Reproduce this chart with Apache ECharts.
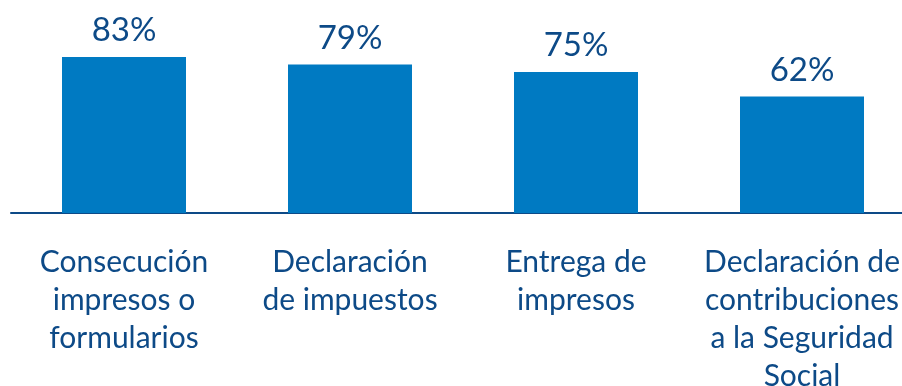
<!DOCTYPE html>
<html>
<head>
<meta charset="utf-8">
<script src="https://cdn.jsdelivr.net/npm/echarts@6/dist/echarts.min.js"></script>
<style>
  html, body { margin: 0; padding: 0; background: #ffffff; }
  #chart { width: 902px; height: 386px; }
</style>
</head>
<body>
<div id="chart"></div>
<script>
// Trámites y porcentajes
const categories = [
  'Consecución\nimpresos o\nformularios',
  'Declaración\nde impuestos',
  'Entrega de\nimpresos',
  'Declaración de\ncontribuciones\na la Seguridad\nSocial'
];
const values = [83, 79, 75, 62];

const navy = '#0D4A87';
const barBlue = '#007AC2';
const fontFamily = 'Lato, "Open Sans", sans-serif';

const chart = echarts.init(document.getElementById('chart'), null, { renderer: 'canvas' });
chart.setOption({
  animation: false,
  grid: {
    left: 11, right: -13, top: 25, bottom: 173,
    containLabel: false,
    outerBoundsMode: 'none'
  },
  xAxis: {
    type: 'category',
    data: categories,
    axisTick: { show: false },
    axisLine: { show: true, lineStyle: { color: navy, width: 2 } },
    axisLabel: {
      interval: 0,
      color: navy,
      fontFamily: fontFamily,
      fontSize: 30,
      lineHeight: 38,
      margin: 30
    }
  },
  yAxis: {
    type: 'value',
    min: 0,
    max: 100,
    show: false,
    splitLine: { show: false }
  },
  series: [{
    type: 'bar',
    data: values,
    barWidth: 124,
    itemStyle: { color: barBlue },
    label: {
      show: true,
      position: 'top',
      distance: 10,
      formatter: '{c}%',
      color: navy,
      fontFamily: fontFamily,
      fontSize: 33
    }
  }]
});
</script>
</body>
</html>
